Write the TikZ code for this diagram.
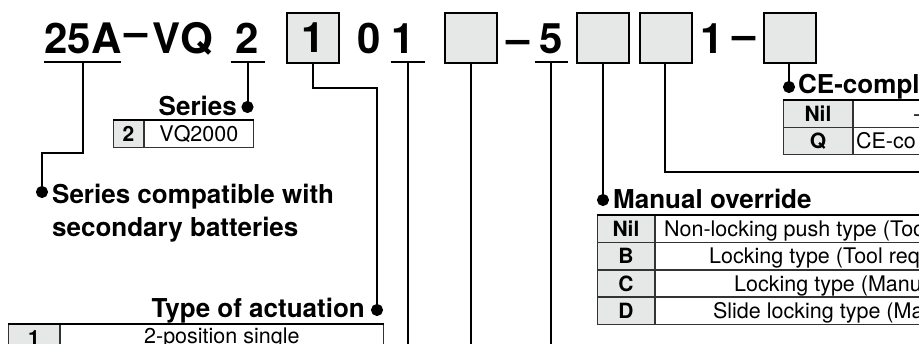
\documentclass[tikz,border=0pt]{standalone}
\usepackage{fontspec}
\setmainfont{TeX Gyre Heros}
\usepackage{xcolor}
\usepackage{tikz}
\usetikzlibrary{positioning}

\definecolor{cellgray}{HTML}{E6E7E7}

\begin{document}
\begin{tikzpicture}[x=1pt, y=-1pt,
        % Node Styles
        code/.style={inner sep=0pt, anchor=base, font=\fontsize{42}{42}\selectfont\bfseries},
        slot/.style={rectangle, draw, line width=2pt, fill=cellgray, minimum width=52pt, minimum height=50pt, inner sep=0pt, font=\fontsize{42}{42}\selectfont\bfseries},
        title/.style={inner sep=0pt, font=\fontsize{26}{33}\selectfont\bfseries},
        keycell/.style={rectangle, draw=black!80, line width=0.9pt, fill=cellgray, minimum height=26.5pt, inner sep=0pt, font=\fontsize{21}{21}\selectfont\bfseries},
        valcell/.style={keycell, fill=white, font=\fontsize{21.5}{21.5}\selectfont},
        valtext/.style={inner sep=0pt, anchor=base west, font=\fontsize{21.5}{21.5}\selectfont},
        dot/.style={circle, fill=black, draw=black, inner sep=0pt, minimum size=10pt},
        uline/.style={line width=2pt},
        link/.style={line width=2pt},
        topline/.style={line width=2pt}
    ]

    \useasboundingbox (0,0) rectangle (919,343);
    \clip (0,0) rectangle (919,343);

    % --- 1. Part Number ---
    \node[code] (prefix) at (83,53) {25A};
    \node[code] (dashA) at (136,46) {–};
    \node[code] (vq) at (182.5,53) {VQ};
    \node[code] (series) at (247.5,53) {2};
    \node[slot] (actuation) at (313,38) {1};
    \node[code] (digit0) at (369.5,53) {0};
    \node[code] (digit1) at (403,53) {1};
    \node[slot] (slotA) at (471,38) {};
    \node[code] (dashB) at (518,53) {–};
    \node[code] (code5) at (551,53) {5};
    \node[slot] (override) at (603,38) {};
    \node[slot] (slotC) at (666,38) {};
    \node[code] (digit1b) at (712,53) {1};
    \node[code] (dashC) at (744,49) {–};
    \node[slot] (ce) at (789.5,38) {};

    % Underlines
    \coordinate (prefixU) at ([yshift=-9pt]prefix.base);
    \coordinate (seriesU) at ([yshift=-9pt]series.base);
    \coordinate (digit1U) at ([shift={(4.5pt,-9pt)}]digit1.base);
    \coordinate (code5U) at ([yshift=-9pt]code5.base);
    \draw[uline] ([xshift=-39pt]prefixU) -- ([xshift=38pt]prefixU);
    \draw[uline] ([xshift=-17pt]seriesU) -- ([xshift=17pt]seriesU);
    \draw[uline] ([xshift=-17pt]digit1U) -- ([xshift=17pt]digit1U);
    \draw[uline] ([xshift=-16pt]code5U) -- ([xshift=17pt]code5U);

    % --- 2. Labels ---
    \node[title, anchor=base east] (lblSer) at (237,115) {Series};
    \node[title, anchor=north west, align=left] (lblSec) at (52,184) {Series compatible with\\secondary batteries};
    \node[title, anchor=base east] (lblAct) at (365,317) {Type of actuation};
    \node[title, anchor=base west] (lblMan) at (613,208) {Manual override};
    \node[title, anchor=base west] (lblCE) at (798,93) {CE-compl};

    % --- 3. Tables ---
    % Series
    \node[keycell, minimum width=30pt, anchor=north west] (ser2) at (113,120) {2};
    \node[valcell, minimum width=109pt, right=0pt of ser2] (serVal) {VQ2000};
    \draw[topline] (ser2.north west) -- (serVal.north east);

    % Type of actuation
    \node[keycell, minimum width=51pt, anchor=north west] (act1) at (8,324) {1};
    \node[valcell, minimum width=323pt, right=0pt of act1] (actVal) {2-position single};
    \draw[topline] (act1.north west) -- (actVal.north east);

    % Manual override
    \node[keycell, minimum width=57pt, anchor=north west] (manNil) at (597,215) {Nil};
    \node[keycell, minimum width=57pt, below=0pt of manNil] (manB) {B};
    \node[keycell, minimum width=57pt, below=0pt of manB] (manC) {C};
    \node[keycell, minimum width=57pt, below=0pt of manC] (manD) {D};
    \foreach \k in {manNil, manB, manC, manD}
        \node[valcell, minimum width=330pt, right=0pt of \k] (\k Val) {};
    \node[valtext] at ([xshift=9pt]manNil.base east) {Non-locking push type (Too};
    \node[valtext] at ([xshift=54pt]manB.base east) {Locking type (Tool req};
    \node[valtext] at ([xshift=79pt]manC.base east) {Locking type (Manu};
    \node[valtext] at ([xshift=58pt]manD.base east) {Slide locking type (Ma};
    \draw[topline] (manNil.north west) -- (manNilVal.north east);

    % CE-compliant
    \node[keycell, minimum width=69pt, anchor=north west] (ceNil) at (783,100) {Nil};
    \node[keycell, minimum width=69pt, below=0pt of ceNil] (ceQ) {Q};
    \foreach \k in {ceNil, ceQ}
        \node[valcell, minimum width=200pt, right=0pt of \k] (\k Val) {};
    \node[valtext] at ([xshift=61pt]ceNil.base east) {–};
    \node[valtext] at ([xshift=3pt]ceQ.base east) {CE-co};
    \draw[topline] (ceNil.north west) -- (ceNilVal.north east);

    % --- 4. Connectors ---
    \coordinate (exitD) at (digit1U |- 0,350);
    \coordinate (exitA) at (slotA.south |- 0,350);
    \coordinate (exitF) at (code5U |- 0,350);
    \coordinate (exitC) at (930,172);

    \draw[link] (prefixU) -- ++(0,91) -| (42,192) node[dot] (dotSec) {};
    \draw[link] (seriesU) -- (seriesU |- 0,107) node[dot] (dotSer) {};
    \draw[link] (actuation.south) -- ++(0,24) -| (377,310) node[dot] (dotAct) {};
    \draw[link] (digit1U) -- (exitD);
    \draw[link] (slotA.south) -- (exitA);
    \draw[link] (code5U) -- (exitF);
    \draw[link] (override.south) -- ++(0,136) node[dot] (dotMan) {};
    \draw[link] ([xshift=-1pt]slotC.south) |- (exitC);
    \draw[link] ([xshift=-0.5pt]ce.south) -- ++(0,23) node[dot] (dotCE) {};

\end{tikzpicture}
\end{document}
